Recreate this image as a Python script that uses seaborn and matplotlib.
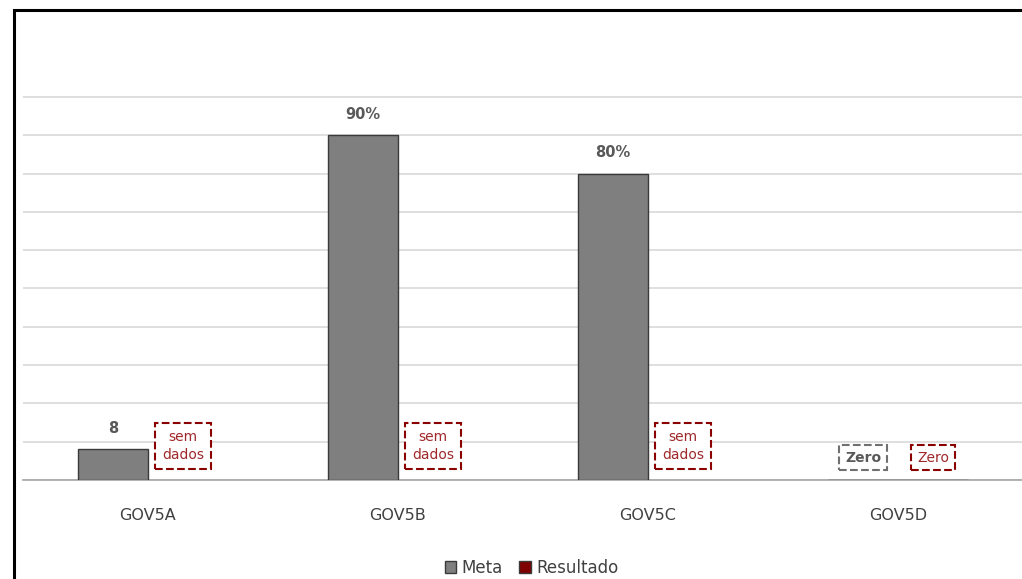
import numpy as np
import pandas as pd
import matplotlib
matplotlib.use("Agg")
import matplotlib.pyplot as plt
from matplotlib.patches import Rectangle
import seaborn as sns

categories = ["GOV5A", "GOV5B", "GOV5C", "GOV5D"]
meta_values = [8, 90, 80, 0]
resultado_values = [np.nan, np.nan, np.nan, 0]
meta_labels = ["8", "90%", "80%", "Zero"]
resultado_labels = ["sem\ndados", "sem\ndados", "sem\ndados", "Zero"]
series = ["Meta", "Resultado"]

sns.set_theme(style="white")
plt.rcParams["font.family"] = ["Liberation Sans Narrow", "DejaVu Sans"]

df = pd.DataFrame({
    "cat": categories * 2,
    "serie": ["Meta"] * 4 + ["Resultado"] * 4,
    "valor": meta_values + resultado_values,
})

fig = plt.figure(figsize=(10.22, 5.79), dpi=100)
ymax = 102
px_per_unit = (480 - 97) / 100
top_px = 480 - ymax * px_per_unit
ax = fig.add_axes([23 / 1022, 1 - 480 / 579, 1000 / 1022, (480 - top_px) / 579])

palette = {"Meta": "#7F7F7F", "Resultado": "#7F0000"}
sns.barplot(data=df, x="cat", y="valor", hue="serie", hue_order=series,
            palette=palette, width=0.56, edgecolor="#3A3A3A", linewidth=1.0,
            saturation=1, ax=ax, zorder=3)

ax.set_ylim(0, ymax)
ax.set_xlim(-0.5, 3.5)
ax.set_yticks(np.arange(0, 101, 10))
ax.set_yticklabels([])
ax.tick_params(axis="y", length=0)
ax.tick_params(axis="x", length=0, pad=20, labelsize=11.5, labelcolor="#404040")
ax.grid(axis="y", color="#D9D9D9", linewidth=1.2, zorder=0)
ax.set_xlabel("")
ax.set_ylabel("")
for s in ["top", "right", "left"]:
    ax.spines[s].set_visible(False)
ax.spines["bottom"].set_color("#A6A6A6")
ax.spines["bottom"].set_linewidth(1.2)

off = 0.14
gray_txt = "#595959"
red_txt = "#A0282A"
red_edge = "#8B0000"
for i, (v, lab) in enumerate(zip(meta_values, meta_labels)):
    if lab == "Zero":
        ax.text(i - off, 5.8, lab, ha="center", va="center", fontsize=10,
                fontweight="bold", color=gray_txt, zorder=5,
                bbox=dict(boxstyle="square,pad=0.4", fc="white", ec="#707070",
                          ls="--", lw=1.5))
    else:
        ax.text(i - off, v + 3.5, lab, ha="center", va="bottom", fontsize=10.5,
                fontweight="bold", color=gray_txt, zorder=5)

for i, lab in enumerate(resultado_labels):
    if lab == "Zero":
        ax.text(i + off, 5.8, lab, ha="center", va="center", fontsize=10,
                color=red_txt, zorder=5,
                bbox=dict(boxstyle="square,pad=0.4", fc="white", ec=red_edge,
                          ls="--", lw=1.5))
    else:
        ax.text(i + off, 8.9, lab, ha="center", va="center", fontsize=10,
                color=red_txt, linespacing=1.35, zorder=5,
                bbox=dict(boxstyle="square,pad=0.5", fc="white", ec=red_edge,
                          ls="--", lw=1.5))

sns.move_legend(ax, "lower center", bbox_to_anchor=(0.52, -0.022),
                bbox_transform=fig.transFigure, ncol=2, frameon=False,
                title=None, fontsize=12, handlelength=0.7, handleheight=0.7,
                handletextpad=0.3, columnspacing=1.0)
for t in ax.get_legend().get_texts():
    t.set_color("#404040")

frame_top = 1 - 10 / 579
fig.add_artist(Rectangle((14 / 1022, -0.1), 1.2, frame_top + 0.1,
                         transform=fig.transFigure, fill=False,
                         ec="black", lw=2.2, zorder=10))

fig.savefig("out.png", dpi=100, facecolor="white")
